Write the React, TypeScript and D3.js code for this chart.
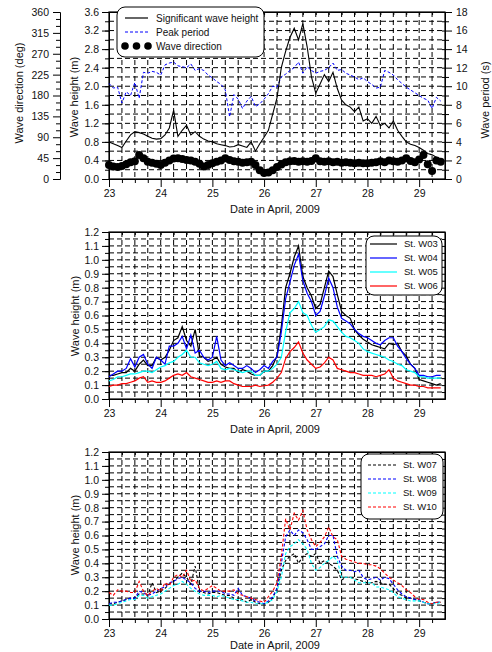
import { useEffect, useRef } from "react"
import * as d3 from "d3"

const W = 492
const H = 652
const FONT = '"Liberation Sans", Arial, Helvetica, sans-serif'

// records every 2 hours, first one 23 April 00:00
const START_DAY = 23
const STEP_DAYS = 2 / 24

const DAY_TICKS = [23, 24, 25, 26, 27, 28, 29]
const HS_TICKS = [0, 0.4, 0.8, 1.2, 1.6, 2.0, 2.4, 2.8, 3.2, 3.6]
const DIR_TICKS = [0, 45, 90, 135, 180, 225, 270, 315, 360]
const TP_TICKS = [0, 2, 4, 6, 8, 10, 12, 14, 16, 18]
const H_TICKS = [0, 0.1, 0.2, 0.3, 0.4, 0.5, 0.6, 0.7, 0.8, 0.9, 1.0, 1.1, 1.2]

// ---- top panel ----
const HS = [
  0.80, 0.76, 0.72, 0.68, 0.82, 0.95, 1.02, 1.00, 0.97, 0.92, 0.88, 0.86,
  0.87, 0.95, 1.10, 1.48, 0.92, 1.05, 1.16, 0.95, 1.02, 0.92, 0.86, 0.82,
  0.80, 0.76, 0.74, 0.72, 0.69, 0.70, 0.74, 0.71, 0.68, 0.80, 0.60, 0.76,
  0.90, 1.05, 1.40, 1.75, 2.40, 2.75, 3.05, 3.25, 3.00, 3.35, 2.85, 2.20,
  1.85, 2.05, 2.25, 2.10, 2.30, 1.95, 1.70, 1.60, 1.55, 1.45, 1.55, 1.25,
  1.30, 1.20, 1.35, 1.15, 1.20, 1.10, 1.25, 1.05, 0.92, 0.80, 0.75, 0.72,
  0.68, 0.62, 0.55, 0.52, 0.47, 0.42
]
const TP = [
  10.3, 9.8, 9.9, 8.2, 9.4, 9.0, 10.4, 8.7, 11.5, 11.4, 11.6, 11.5,
  11.2, 12.3, 12.5, 12.6, 12.2, 12.1, 12.0, 12.4, 11.7, 11.9, 11.7, 11.2,
  10.9, 10.5, 10.2, 9.6, 6.7, 9.1, 8.6, 7.6, 8.4, 8.9, 7.8, 8.1,
  8.6, 9.2, 10.0, 9.9, 11.0, 11.3, 11.7, 12.0, 12.6, 11.4, 12.1, 11.7,
  11.4, 11.6, 11.7, 12.0, 12.5, 11.7, 11.8, 11.4, 11.2, 11.0, 10.7, 10.9,
  10.5, 10.2, 9.8, 9.9, 11.7, 11.5, 11.2, 10.7, 10.3, 9.9, 9.6, 9.3,
  9.0, 8.7, 8.5, 7.6, 8.8, 8.4
]
const DIR = [
  30, 27, 26, 28, 32, 36, 38, 52, 45, 37, 35, 33,
  30, 35, 40, 44, 45, 43, 41, 40, 37, 33, 27, 30,
  34, 37, 40, 45, 41, 38, 37, 35, 36, 37, 30, 19,
  13, 14, 19, 26, 31, 36, 38, 39, 37, 38, 37, 39,
  45, 38, 37, 38, 36, 37, 35, 36, 35, 34, 35, 34,
  34, 35, 36, 38, 36, 40, 38, 37, 40, 45, 39, 36,
  42, 52, 32, 17, 40, 37
]

// ---- middle panel ----
const W03 = [
  0.17, 0.17, 0.18, 0.19, 0.19, 0.22, 0.20, 0.25, 0.28, 0.24, 0.24, 0.30,
  0.28, 0.30, 0.35, 0.42, 0.44, 0.52, 0.42, 0.38, 0.50, 0.31, 0.30, 0.27,
  0.28, 0.30, 0.25, 0.23, 0.22, 0.22, 0.19, 0.21, 0.20, 0.18, 0.17, 0.17,
  0.20, 0.20, 0.24, 0.31, 0.52, 0.80, 0.90, 1.02, 1.10, 0.88, 0.80, 0.74,
  0.65, 0.68, 0.80, 0.92, 0.88, 0.75, 0.63, 0.60, 0.58, 0.50, 0.46, 0.43,
  0.41, 0.39, 0.38, 0.37, 0.36, 0.40, 0.39, 0.40, 0.34, 0.31, 0.25, 0.22,
  0.14, 0.13, 0.12, 0.11, 0.10, 0.11
]
const W04 = [
  0.16, 0.18, 0.20, 0.20, 0.22, 0.29, 0.23, 0.30, 0.32, 0.25, 0.22, 0.30,
  0.28, 0.25, 0.38, 0.38, 0.40, 0.45, 0.36, 0.46, 0.33, 0.35, 0.30, 0.28,
  0.30, 0.45, 0.28, 0.24, 0.26, 0.24, 0.22, 0.22, 0.24, 0.22, 0.19, 0.21,
  0.24, 0.22, 0.27, 0.30, 0.48, 0.72, 0.84, 0.96, 1.04, 0.85, 0.76, 0.70,
  0.60, 0.63, 0.74, 0.87, 0.80, 0.66, 0.58, 0.56, 0.54, 0.50, 0.47, 0.45,
  0.44, 0.42, 0.40, 0.39, 0.42, 0.44, 0.44, 0.38, 0.34, 0.29, 0.25, 0.22,
  0.17, 0.17, 0.16, 0.16, 0.17, 0.17
]
const W05 = [
  0.13, 0.14, 0.16, 0.16, 0.17, 0.18, 0.18, 0.19, 0.20, 0.20, 0.19, 0.21,
  0.23, 0.24, 0.26, 0.27, 0.30, 0.32, 0.35, 0.30, 0.30, 0.26, 0.25, 0.24,
  0.25, 0.27, 0.22, 0.21, 0.22, 0.21, 0.20, 0.19, 0.20, 0.20, 0.17, 0.17,
  0.20, 0.20, 0.22, 0.25, 0.30, 0.48, 0.62, 0.65, 0.70, 0.62, 0.60, 0.53,
  0.48, 0.50, 0.52, 0.57, 0.56, 0.52, 0.48, 0.45, 0.44, 0.42, 0.40, 0.36,
  0.34, 0.33, 0.32, 0.31, 0.30, 0.28, 0.27, 0.25, 0.24, 0.21, 0.20, 0.19,
  0.16, 0.16, 0.15, 0.15, 0.15, 0.15
]
const W06 = [
  0.09, 0.10, 0.10, 0.11, 0.11, 0.12, 0.13, 0.15, 0.16, 0.12, 0.13, 0.12,
  0.12, 0.13, 0.15, 0.17, 0.18, 0.17, 0.19, 0.16, 0.15, 0.14, 0.13, 0.12,
  0.12, 0.13, 0.12, 0.13, 0.13, 0.11, 0.10, 0.09, 0.09, 0.09, 0.10, 0.09,
  0.095, 0.10, 0.12, 0.15, 0.19, 0.29, 0.34, 0.37, 0.41, 0.33, 0.28, 0.25,
  0.22, 0.23, 0.26, 0.30, 0.28, 0.22, 0.21, 0.20, 0.19, 0.19, 0.18, 0.17,
  0.17, 0.17, 0.16, 0.17, 0.18, 0.21, 0.15, 0.13, 0.12, 0.11, 0.10, 0.10,
  0.09, 0.09, 0.08, 0.08, 0.08, 0.08
]

// ---- bottom panel ----
const W07 = [
  0.11, 0.11, 0.12, 0.13, 0.14, 0.15, 0.15, 0.18, 0.18, 0.17, 0.26, 0.19,
  0.20, 0.22, 0.25, 0.27, 0.30, 0.33, 0.30, 0.25, 0.38, 0.20, 0.19, 0.18,
  0.19, 0.19, 0.18, 0.17, 0.17, 0.15, 0.13, 0.14, 0.12, 0.14, 0.12, 0.11,
  0.11, 0.12, 0.15, 0.22, 0.35, 0.42, 0.45, 0.47, 0.40, 0.45, 0.47, 0.45,
  0.47, 0.40, 0.42, 0.40, 0.38, 0.35, 0.28, 0.30, 0.30, 0.29, 0.28, 0.27,
  0.26, 0.26, 0.27, 0.26, 0.25, 0.25, 0.22, 0.18, 0.17, 0.15, 0.15, 0.14,
  0.13, 0.12, 0.11, 0.11, 0.12, 0.12
]
const W08 = [
  0.11, 0.12, 0.12, 0.13, 0.14, 0.15, 0.15, 0.20, 0.19, 0.17, 0.18, 0.20,
  0.22, 0.23, 0.26, 0.27, 0.29, 0.30, 0.28, 0.26, 0.22, 0.20, 0.20, 0.19,
  0.20, 0.20, 0.20, 0.18, 0.18, 0.17, 0.22, 0.17, 0.16, 0.15, 0.13, 0.12,
  0.11, 0.13, 0.16, 0.22, 0.40, 0.59, 0.64, 0.60, 0.64, 0.62, 0.57, 0.50,
  0.50, 0.52, 0.54, 0.60, 0.60, 0.45, 0.38, 0.35, 0.35, 0.34, 0.35, 0.30,
  0.28, 0.29, 0.30, 0.28, 0.30, 0.29, 0.25, 0.21, 0.18, 0.16, 0.15, 0.14,
  0.14, 0.12, 0.11, 0.11, 0.12, 0.12
]
const W09 = [
  0.10, 0.10, 0.11, 0.12, 0.13, 0.14, 0.14, 0.17, 0.17, 0.15, 0.16, 0.17,
  0.18, 0.20, 0.22, 0.24, 0.25, 0.27, 0.25, 0.22, 0.20, 0.18, 0.17, 0.17,
  0.17, 0.16, 0.17, 0.16, 0.15, 0.14, 0.14, 0.13, 0.12, 0.12, 0.11, 0.11,
  0.11, 0.12, 0.14, 0.20, 0.30, 0.47, 0.52, 0.54, 0.57, 0.54, 0.50, 0.40,
  0.35, 0.37, 0.40, 0.42, 0.45, 0.42, 0.30, 0.30, 0.30, 0.28, 0.26, 0.26,
  0.26, 0.26, 0.23, 0.23, 0.22, 0.21, 0.19, 0.16, 0.15, 0.14, 0.13, 0.13,
  0.13, 0.12, 0.11, 0.11, 0.11, 0.12
]
const W10 = [
  0.19, 0.17, 0.21, 0.20, 0.20, 0.19, 0.19, 0.27, 0.20, 0.17, 0.20, 0.22,
  0.20, 0.26, 0.24, 0.30, 0.32, 0.30, 0.35, 0.27, 0.28, 0.22, 0.20, 0.22,
  0.24, 0.22, 0.20, 0.20, 0.20, 0.21, 0.18, 0.17, 0.16, 0.15, 0.14, 0.13,
  0.12, 0.16, 0.20, 0.26, 0.45, 0.72, 0.64, 0.76, 0.71, 0.78, 0.64, 0.57,
  0.52, 0.55, 0.59, 0.66, 0.59, 0.57, 0.45, 0.43, 0.42, 0.41, 0.40, 0.40,
  0.39, 0.39, 0.38, 0.36, 0.33, 0.30, 0.28, 0.26, 0.24, 0.21, 0.19, 0.16,
  0.14, 0.14, 0.12, 0.11, 0.12, 0.12
]

const MID_SERIES = [
  { name: "St. W03", values: W03, color: "#000000" },
  { name: "St. W04", values: W04, color: "#0000ff" },
  { name: "St. W05", values: W05, color: "#00ffff" },
  { name: "St. W06", values: W06, color: "#ff0000" },
]
const LOW_SERIES = [
  { name: "St. W07", values: W07, color: "#000000" },
  { name: "St. W08", values: W08, color: "#0000ff" },
  { name: "St. W09", values: W09, color: "#00ffff" },
  { name: "St. W10", values: W10, color: "#ff0000" },
]

const TIMES = HS.map((_, i) => START_DAY + i * STEP_DAYS)

export default function App() {
  const svgRef = useRef(null)

  useEffect(() => {
    const svg = d3.select(svgRef.current)
    svg.selectAll("*").remove()
    svg.append("rect").attr("width", W).attr("height", H).attr("fill", "#fff")

    const x = d3.scaleLinear().domain([23, 29.5]).range([109, 445])
    const quarters = d3.range(23.25, 29.49, 0.25)

    function styleAxis(g, size) {
      g.attr("font-family", FONT).attr("font-size", size || 10.5)
      g.selectAll(".domain").attr("stroke", "#000")
      g.selectAll(".tick line").attr("stroke", "#000")
      g.selectAll(".tick text").attr("fill", "#111")
    }

    function framePanel(y, gridStep, fmt, yTicks) {
      const [bottom, top] = y.range()
      const g = svg.append("g")
      const [lo, hi] = y.domain()
      const gridY = d3.range(lo + gridStep, hi - gridStep / 2, gridStep)
      g.selectAll("line.gx").data(quarters).join("line")
        .attr("x1", d => x(d)).attr("x2", d => x(d))
        .attr("y1", top).attr("y2", bottom)
      g.selectAll("line.gy").data(gridY).join("line")
        .attr("x1", 109).attr("x2", 445)
        .attr("y1", d => y(d)).attr("y2", d => y(d))
      g.selectAll("line").attr("stroke", "#000").attr("stroke-width", 1)
        .attr("stroke-dasharray", "5,3")

      // bottom axis
      svg.append("g").attr("transform", `translate(0,${bottom})`)
        .call(d3.axisBottom(x).tickValues(DAY_TICKS).tickSize(8).tickPadding(3)
          .tickSizeOuter(0).tickFormat(d3.format("d")))
        .call(styleAxis)
      svg.append("g").attr("transform", `translate(0,${bottom})`)
        .call(d3.axisBottom(x).tickValues(quarters.filter(d => d % 1 !== 0)).tickSize(4)
          .tickSizeOuter(0).tickFormat(() => ""))
        .call(styleAxis)
      // left axis
      svg.append("g").attr("transform", "translate(109,0)")
        .call(d3.axisLeft(y).tickValues(yTicks).tickSize(7).tickPadding(3)
          .tickSizeOuter(0).tickFormat(d3.format(fmt)))
        .call(styleAxis)
      svg.append("g").attr("transform", "translate(109,0)")
        .call(d3.axisLeft(y).tickValues(gridY).tickSize(4).tickSizeOuter(0).tickFormat(() => ""))
        .call(styleAxis)
      // inner ticks on top and right
      svg.append("g").attr("transform", "translate(445,0)")
        .call(d3.axisLeft(y).tickValues(gridY).tickSize(3).tickSizeOuter(0).tickFormat(() => ""))
        .call(styleAxis)
      svg.append("g").attr("transform", `translate(0,${top})`)
        .call(d3.axisBottom(x).tickValues(quarters).tickSize(3).tickSizeOuter(0).tickFormat(() => ""))
        .call(styleAxis)

      svg.append("rect")
        .attr("x", 109).attr("y", top).attr("width", 336).attr("height", bottom - top)
        .attr("fill", "none").attr("stroke", "#000").attr("stroke-width", 1.2)

      svg.append("text")
        .attr("x", 275).attr("y", Math.min(bottom + 34, H - 3))
        .attr("text-anchor", "middle")
        .attr("font-family", FONT).attr("font-size", 11).attr("fill", "#111")
        .text("Date in April, 2009")
    }

    function vTitle(label, cx, cy, size) {
      svg.append("text")
        .attr("transform", `translate(${cx},${cy}) rotate(-90)`)
        .attr("text-anchor", "middle").attr("dy", "0.35em")
        .attr("font-family", FONT).attr("font-size", size).attr("fill", "#111")
        .text(label)
    }

    function legendBox(x0, y0, w, h) {
      svg.append("rect")
        .attr("x", x0).attr("y", y0).attr("width", w).attr("height", h)
        .attr("rx", 8).attr("ry", 8)
        .attr("fill", "#fff").attr("stroke", "#000").attr("stroke-width", 1)
    }

    function legendText(label, tx, ty, size) {
      svg.append("text")
        .attr("x", tx).attr("y", ty).attr("dy", "0.35em")
        .attr("font-family", FONT).attr("font-size", size || 10).attr("fill", "#111")
        .text(label)
    }

    /* ----- top panel ----- */
    const y1 = d3.scaleLinear().domain([0, 3.6]).range([179, 12])
    const yDir = d3.scaleLinear().domain([0, 360]).range([179, 12])
    const yTp = d3.scaleLinear().domain([0, 18]).range([179, 12])
    framePanel(y1, 0.2, ".1f", HS_TICKS)

    svg.append("g").attr("transform", "translate(60,0)")
      .call(d3.axisLeft(yDir).tickValues(DIR_TICKS).tickSize(7).tickPadding(4)
        .tickSizeOuter(0).tickFormat(d3.format("d")))
      .call(styleAxis)
    svg.append("g").attr("transform", "translate(60,0)")
      .call(d3.axisLeft(yDir).tickValues(d3.range(15, 360, 15).filter(d => d % 45 !== 0))
        .tickSize(4).tickSizeOuter(0).tickFormat(() => ""))
      .call(styleAxis)
    svg.append("g").attr("transform", "translate(445,0)")
      .call(d3.axisRight(yTp).tickValues(TP_TICKS).tickSize(7).tickPadding(4)
        .tickSizeOuter(0).tickFormat(d3.format("d")))
      .call(styleAxis)
    svg.append("g").attr("transform", "translate(445,0)")
      .call(d3.axisRight(yTp).tickValues(d3.range(1, 18, 2)).tickSize(4)
        .tickSizeOuter(0).tickFormat(() => ""))
      .call(styleAxis)

    const dataTop = svg.append("g")
    dataTop.selectAll("circle").data(DIR).join("circle")
      .attr("cx", (d, i) => x(TIMES[i])).attr("cy", d => yDir(d))
      .attr("r", 4).attr("fill", "#000")
    dataTop.append("path").datum(TP)
      .attr("fill", "none").attr("stroke", "#0000ff").attr("stroke-width", 1)
      .attr("stroke-dasharray", "3,2")
      .attr("d", d3.line().x((d, i) => x(TIMES[i])).y(d => yTp(d)))
    dataTop.append("path").datum(HS)
      .attr("fill", "none").attr("stroke", "#000").attr("stroke-width", 1.1)
      .attr("d", d3.line().x((d, i) => x(TIMES[i])).y(d => y1(d)))

    vTitle("Wave direction (deg)", 19, 93, 11)
    vTitle("Wave height (m)", 74, 97, 11)
    vTitle("Wave period (s)", 485, 100, 11)

    legendBox(117, 7, 147, 50)
    svg.append("line").attr("x1", 125).attr("x2", 148).attr("y1", 18).attr("y2", 18)
      .attr("stroke", "#000").attr("stroke-width", 1.2)
    svg.append("line").attr("x1", 125).attr("x2", 148).attr("y1", 32).attr("y2", 32)
      .attr("stroke", "#0000ff").attr("stroke-dasharray", "3,2")
    svg.selectAll("circle.leg").data([125, 136.5, 148]).join("circle")
      .attr("class", "leg").attr("cx", d => d).attr("cy", 46).attr("r", 3.8).attr("fill", "#000")
    legendText("Significant wave height", 156, 18)
    legendText("Peak period", 156, 32)
    legendText("Wave direction", 156, 46)

    /* ----- middle panel ----- */
    const y2 = d3.scaleLinear().domain([0, 1.2]).range([399, 232])
    framePanel(y2, 0.05, ".1f", H_TICKS)
    const lineMid = d3.line().x((d, i) => x(TIMES[i])).y(d => y2(d))
    svg.append("g").selectAll("path").data(MID_SERIES).join("path")
      .attr("fill", "none").attr("stroke", d => d.color).attr("stroke-width", 1.2)
      .attr("d", d => lineMid(d.values))
    vTitle("Wave height (m)", 75, 316, 11)
    legendBox(366, 236, 76, 59)
    MID_SERIES.forEach((s, i) => {
      const ly = 244 + i * 14
      svg.append("line").attr("x1", 370).attr("x2", 397).attr("y1", ly).attr("y2", ly)
        .attr("stroke", s.color).attr("stroke-width", 1.2)
      legendText(s.name, 404, ly, 9.5)
    })

    /* ----- bottom panel ----- */
    const y3 = d3.scaleLinear().domain([0, 1.2]).range([619, 452])
    framePanel(y3, 0.05, ".1f", H_TICKS)
    const lineLow = d3.line().x((d, i) => x(TIMES[i])).y(d => y3(d))
    svg.append("g").selectAll("path").data(LOW_SERIES).join("path")
      .attr("fill", "none").attr("stroke", d => d.color).attr("stroke-width", 1.1)
      .attr("stroke-dasharray", "3,2")
      .attr("d", d => lineLow(d.values))
    vTitle("Wave height (m)", 75, 535, 11)
    legendBox(361, 454, 82, 65)
    LOW_SERIES.forEach((s, i) => {
      const ly = 465 + i * 14
      svg.append("line").attr("x1", 368).attr("x2", 396).attr("y1", ly).attr("y2", ly)
        .attr("stroke", s.color).attr("stroke-width", 1.1).attr("stroke-dasharray", "3,2")
      legendText(s.name, 403, ly, 9.5)
    })
  }, [])

  return (
    <svg ref={svgRef} width={W} height={H}
      style={{ position: "absolute", left: 0, top: 0, display: "block" }} />
  )
}
